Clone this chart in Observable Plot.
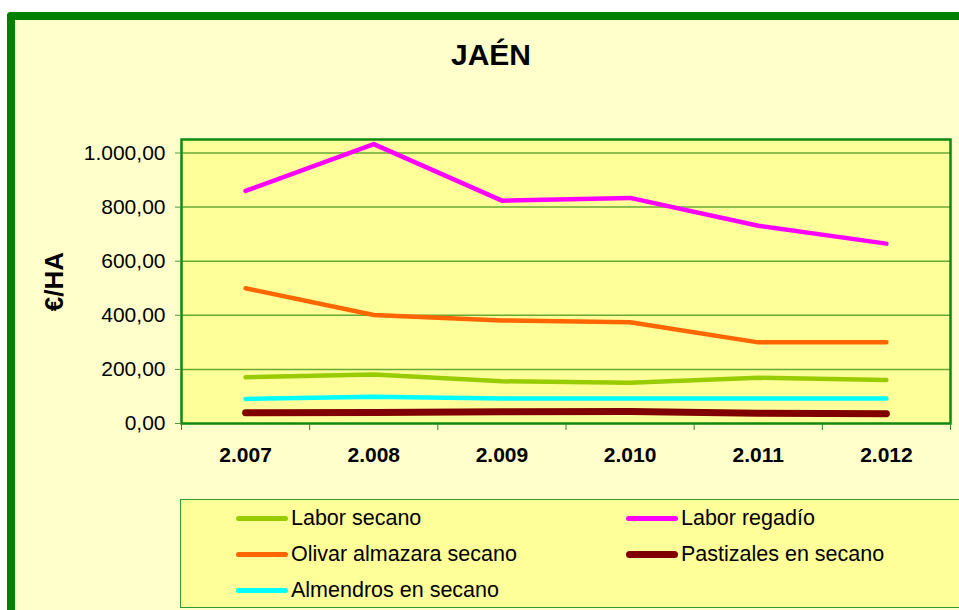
<!DOCTYPE html>
<html>
<head>
<meta charset="utf-8">
<script src="https://cdn.jsdelivr.net/npm/d3@7"></script>
<script src="https://cdn.jsdelivr.net/npm/@observablehq/plot@0.6"></script>
<style>
  html, body { margin: 0; padding: 0; width: 959px; height: 610px; overflow: hidden; background: #ffffff; font-family: "Liberation Sans", Arial, sans-serif; }
  #frame { position: absolute; left: 7px; top: 12px; width: 1000px; height: 700px; background: #FFFFCC; border-left: 8px solid #008000; border-top: 8px solid #008000; border-top-left-radius: 4px; }
  #title { position: absolute; left: 391px; width: 200px; top: 40px; line-height: 30px; text-align: center; font-size: 30px; font-weight: bold; color: #000; }
  #chart { position: absolute; left: 0; top: 0; }
  #legend { position: absolute; left: 180px; top: 499px; width: 820px; height: 107px; background: #FFFF99; border: 1.5px solid #339933; }
  .item { position: absolute; height: 30px; display: flex; align-items: center; font-size: 21.5px; color: #000; white-space: nowrap; }
  .sw { width: 52px; height: 5px; border-radius: 3px; margin-right: 3px; }
</style>
</head>
<body>
<div id="frame"></div>
<div id="chart"></div>
<div id="title">JAÉN</div>
<div id="legend"></div>
<script>
const years = ["2.007", "2.008", "2.009", "2.010", "2.011", "2.012"];
const seriesNames = ["Labor secano", "Labor regadío", "Olivar almazara secano", "Pastizales en secano", "Almendros en secano"];
const laborSecano = [171, 181, 156, 151, 169, 161];
const laborRegadio = [860, 1033, 824, 834, 731, 665];
const olivarAlmazara = [500, 401, 381, 374, 300, 300];
const pastizales = [40, 41, 43, 44, 38, 36];
const almendros = [91, 99, 92, 92, 92, 92];
const yTicks = [0, 200, 400, 600, 800, 1000];
const seriesColors = ["#99CC00", "#FF00FF", "#FF6600", "#800000", "#00FFFF"];

const seriesValues = [laborSecano, laborRegadio, olivarAlmazara, pastizales, almendros];
const rows = [];
seriesNames.forEach((s, k) => seriesValues[k].forEach((v, i) => rows.push({serie: s, i, year: years[i], value: v})));

const locale = d3.formatLocale({decimal: ",", thousands: ".", grouping: [3], currency: ["", " €"]});
const fmt = locale.format(",.2f");
const boundaries = d3.range(years.length + 1).map(i => i - 0.5);
const thick = "Pastizales en secano";

const plot = Plot.plot({
  width: 959,
  height: 470,
  marginLeft: 181,
  marginRight: 9,
  marginTop: 139,
  marginBottom: 47,
  style: {background: "transparent", fontFamily: "'Liberation Sans', Arial, sans-serif", fontSize: "21px", color: "#000", overflow: "visible"},
  x: {type: "linear", domain: [-0.5, years.length - 0.5], axis: null, label: null},
  y: {domain: [0, 1050], axis: null, label: null},
  color: {domain: seriesNames, range: seriesColors},
  marks: [
    Plot.frame({fill: "#FFFF99", stroke: "none"}),
    Plot.gridY(yTicks.filter(d => d > 0), {stroke: "#66AA33", strokeOpacity: 1, strokeWidth: 1.5}),
    Plot.line(rows.filter(d => d.serie !== thick), {x: "i", y: "value", z: "serie", stroke: "serie", strokeWidth: 4.5, strokeLinecap: "round", strokeLinejoin: "round"}),
    Plot.line(rows.filter(d => d.serie === thick), {x: "i", y: "value", z: "serie", stroke: "serie", strokeWidth: 7, strokeLinecap: "round", strokeLinejoin: "round"}),
    Plot.frame({stroke: "#118811", strokeWidth: 2.5}),
    Plot.axisY({ticks: yTicks, tickFormat: fmt, tickSize: 6, tickPadding: 10, stroke: "#4a9a3a", fill: "#000", fontSize: 21, label: null}),
    Plot.axisX({ticks: boundaries, tickFormat: () => "", tickSize: 7, stroke: "#2a8a2a", label: null}),
    Plot.text(years, {x: (d, i) => i, y: () => 0, text: d => d, dy: 32, fontWeight: "bold", fontSize: 21, lineAnchor: "middle", fill: "#000"}),
    Plot.text(["€/HA"], {frameAnchor: "left", text: d => d, rotate: -90, dx: -127, textAnchor: "middle", fontWeight: "bold", fontSize: 26, lineAnchor: "middle", fill: "#000"})
  ]
});
document.getElementById("chart").appendChild(plot);

// legend
const legend = document.getElementById("legend");
const cols = [55, 445];
const rowsY = [3, 39, 75];
seriesNames.forEach((s, k) => {
  const item = document.createElement("div");
  item.className = "item";
  const col = k % 2, row = Math.floor(k / 2);
  item.style.left = cols[col] + "px";
  item.style.top = rowsY[row] + "px";
  const sw = document.createElement("div");
  sw.className = "sw";
  sw.style.background = seriesColors[k];
  if (s === thick) { sw.style.height = "7px"; sw.style.borderRadius = "4px"; }
  const label = document.createElement("span");
  label.textContent = s;
  item.appendChild(sw);
  item.appendChild(label);
  legend.appendChild(item);
});
</script>
</body>
</html>
